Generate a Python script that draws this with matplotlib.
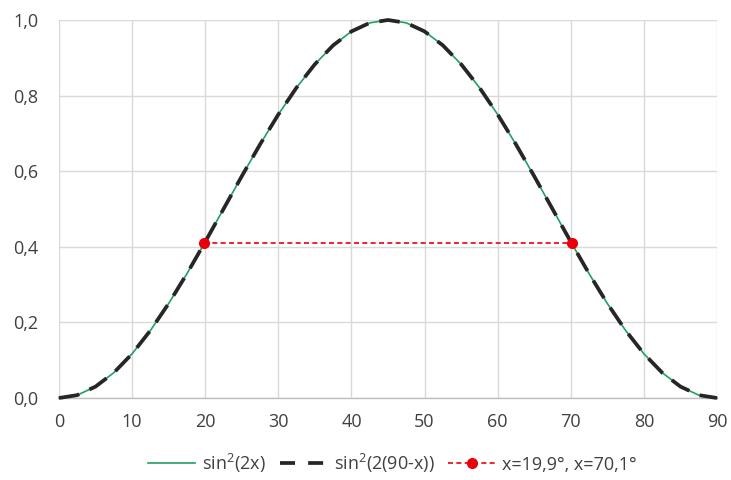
import matplotlib
matplotlib.use("Agg")
import matplotlib.pyplot as plt
from matplotlib.lines import Line2D
from matplotlib.ticker import FuncFormatter

plt.rcParams['font.family'] = ['Open Sans', 'DejaVu Sans']
plt.rcParams['mathtext.fontset'] = 'custom'
plt.rcParams['mathtext.rm'] = 'Open Sans'
plt.rcParams['mathtext.it'] = 'Open Sans'
plt.rcParams['mathtext.default'] = 'regular'

# angle in degrees
x_deg = [0, 2.5, 5, 7.5, 10, 12.5, 15, 17.5, 20, 22.5, 25, 27.5, 30, 32.5, 35, 37.5,
         40, 42.5, 45, 47.5, 50, 52.5, 55, 57.5, 60, 62.5, 65, 67.5, 70, 72.5, 75,
         77.5, 80, 82.5, 85, 87.5, 90]
# sin^2(2x)
y_sin2 = [0.0, 0.0076, 0.0302, 0.0670, 0.1170, 0.1786, 0.2500, 0.3290, 0.4132, 0.5000,
          0.5868, 0.6710, 0.7500, 0.8214, 0.8830, 0.9330, 0.9698, 0.9924, 1.0,
          0.9924, 0.9698, 0.9330, 0.8830, 0.8214, 0.7500, 0.6710, 0.5868, 0.5000,
          0.4132, 0.3290, 0.2500, 0.1786, 0.1170, 0.0670, 0.0302, 0.0076, 0.0]
# sin^2(2(90-x))
y_sin2_mirror = [0.0, 0.0076, 0.0302, 0.0670, 0.1170, 0.1786, 0.2500, 0.3290, 0.4132, 0.5000,
                 0.5868, 0.6710, 0.7500, 0.8214, 0.8830, 0.9330, 0.9698, 0.9924, 1.0,
                 0.9924, 0.9698, 0.9330, 0.8830, 0.8214, 0.7500, 0.6710, 0.5868, 0.5000,
                 0.4132, 0.3290, 0.2500, 0.1786, 0.1170, 0.0670, 0.0302, 0.0076, 0.0]
# solutions
x_sol = [19.9, 70.1]
y_sol = [0.41, 0.41]

labels = ['sin$^{2}$(2x)', 'sin$^{2}$(2(90-x))', 'x=19,9°, x=70,1°']
x_ticks = [0, 10, 20, 30, 40, 50, 60, 70, 80, 90]
y_ticks = [0.0, 0.2, 0.4, 0.6, 0.8, 1.0]

green = '#1fa060'
dark = '#262626'
red = '#e8000b'
txt = '#404040'
grid = '#d9d9d9'
fs = 13

fig = plt.figure(figsize=(7.31, 4.80), dpi=100)
ax = fig.add_axes([59/731, 1-398/480, (717-59)/731, (398-20)/480])

ax.plot(x_deg, y_sin2, color=green, lw=1.2, clip_on=False, zorder=3)
ax.plot(x_deg, y_sin2_mirror, color=dark, lw=2.7, dashes=(5.5, 3), clip_on=False, zorder=4)
ax.plot(x_sol, y_sol, color=red, lw=1.2, ls=(0, (3, 2)), marker='o', ms=8,
        markeredgewidth=0, zorder=5, clip_on=False)

ax.set_xlim(0, 90)
ax.set_ylim(0, 1)
ax.set_xticks(x_ticks)
ax.set_yticks(y_ticks)
ax.yaxis.set_major_formatter(FuncFormatter(lambda v, p: f'{v:.1f}'.replace('.', ',')))
ax.xaxis.set_major_formatter(FuncFormatter(lambda v, p: f'{v:.0f}'))
ax.grid(True, color=grid, lw=1.0, zorder=0)
ax.set_axisbelow(True)
for s in ['top', 'right', 'left']:
    ax.spines[s].set_visible(False)
ax.spines['bottom'].set_color('#bfbfbf')
ax.spines['bottom'].set_linewidth(1.0)
ax.tick_params(length=0, labelsize=fs, labelcolor=txt)
ax.tick_params(axis='y', pad=15)
ax.tick_params(axis='x', pad=11)

handles = [
    Line2D([], [], color=green, lw=1.2),
    Line2D([], [], color=dark, lw=2.7, dashes=(4, 3.5)),
    Line2D([], [], color=red, lw=1.2, ls=(0, (3, 2)), marker='o', ms=8, markeredgewidth=0),
]
leg = fig.legend(handles, labels, loc='center', bbox_to_anchor=(0.537, 1-463/480),
                 ncol=3, frameon=False, fontsize=fs, handlelength=2.6,
                 handletextpad=0.4, columnspacing=0.75)
for t in leg.get_texts():
    t.set_color(txt)

fig.savefig('out.png', dpi=100)
